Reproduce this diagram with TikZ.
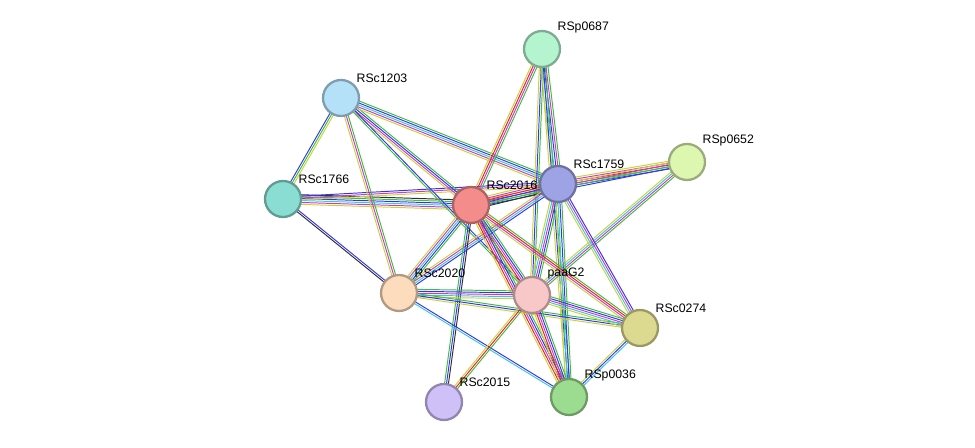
\documentclass[tikz,border=0pt]{standalone}
\usepackage{fontspec}
\setmainfont{Liberation Sans}
\usetikzlibrary{calc,backgrounds}
\definecolor{cNb}{HTML}{3DBE3D}
\definecolor{cCo}{HTML}{3535F0}
\definecolor{cEx}{HTML}{C83CC8}
\definecolor{cDb}{HTML}{3CC8D8}
\definecolor{cTm}{HTML}{C8D23C}
\definecolor{cFu}{HTML}{F01E1E}
\definecolor{cBk}{HTML}{303030}
\tikzset{
  prot/.style={circle, draw=#1!70!black, fill=#1, line width=1.3pt, minimum size=0.72cm, inner sep=0pt},
  lab/.style={font=\fontsize{7}{8}\selectfont, anchor=south west, inner sep=1pt},
}
\newcommand\bundle[4]{%
  \foreach \c [count=\i] in {#3}{%
    \pgfmathsetmacro\o{(\i-(#4+1)/2)*1.1}%
    \draw[\c, line width=0.55pt] ($(#1)!\o pt!90:(#2)$) -- ($(#2)!\o pt!-90:(#1)$);}}
\begin{document}
\begin{tikzpicture}[x=0.02cm, y=-0.02cm]
\useasboundingbox (0,0) rectangle (975,448);
\definecolor{fMint}{HTML}{B4F5CF}
\definecolor{fSky}{HTML}{B4E0F8}
\definecolor{fLime}{HTML}{DDF6B0}
\definecolor{fPur}{HTML}{9DA3E4}
\definecolor{fTeal}{HTML}{8ADDD3}
\definecolor{fRed}{HTML}{F58C8C}
\definecolor{fPeach}{HTML}{FCDCBC}
\definecolor{fPink}{HTML}{F8C8C8}
\definecolor{fKhaki}{HTML}{DCDA90}
\definecolor{fGreen}{HTML}{9CDC90}
\definecolor{fLav}{HTML}{D0C0F8}

\node[prot=fMint] (RSp0687) at (542,49) {};
\node[prot=fSky] (RSc1203) at (341,98) {};
\node[prot=fLime] (RSp0652) at (687,162) {};
\node[prot=fPur] (RSc1759) at (558,184) {};
\node[prot=fTeal] (RSc1766) at (283,199) {};
\node[prot=fRed] (RSc2016) at (471,205) {};
\node[prot=fPeach] (RSc2020) at (399,293) {};
\node[prot=fPink] (paaG2) at (532,295) {};
\node[prot=fKhaki] (RSc0274) at (640,328) {};
\node[prot=fGreen] (RSp0036) at (569,397) {};
\node[prot=fLav] (RSc2015) at (444,402) {};

\node[lab] at (RSp0687.north east) {RSp0687};
\node[lab] at (RSc1203.north east) {RSc1203};
\node[lab] at (RSp0652.north east) {RSp0652};
\node[lab] at (RSc1759.north east) {RSc1759};
\node[lab] at (RSc1766.north east) {RSc1766};
\node[lab] at (RSc2016.north east) {RSc2016};
\node[lab] at (RSc2020.north east) {RSc2020};
\node[lab] at (paaG2.north east) {paaG2};
\node[lab] at (RSc0274.north east) {RSc0274};
\node[lab] at (RSp0036.north east) {RSp0036};
\node[lab] at (RSc2015.north east) {RSc2015};

\begin{scope}[on background layer]
\bundle{RSc1766}{RSc1203}{cTm,cNb,cCo}{3}
\bundle{RSc1766}{RSc2016}{cTm,cEx,cDb,cCo,cNb,cBk}{6}
\bundle{RSc1766}{RSc1759}{cTm,cEx,cCo}{3}
\bundle{RSc1766}{RSc2020}{cBk,cCo}{2}
\bundle{RSc1203}{RSc2016}{cTm,cEx,cCo,cNb}{4}
\bundle{RSc1203}{RSc1759}{cTm,cEx,cDb,cCo,cNb}{5}
\bundle{RSc1203}{RSc2020}{cTm,cEx,cNb}{3}
\bundle{RSc1203}{paaG2}{cNb,cCo}{2}
\bundle{RSp0687}{RSc2016}{cTm,cFu,cEx,cNb}{4}
\bundle{RSp0687}{RSc1759}{cTm,cDb,cCo,cEx,cNb}{5}
\bundle{RSp0687}{paaG2}{cTm,cCo,cNb}{3}
\bundle{RSp0687}{RSp0036}{cTm,cCo,cNb}{3}
\bundle{RSp0652}{RSc1759}{cTm,cEx,cFu,cNb,cCo}{5}
\bundle{RSp0652}{RSc2016}{cTm,cEx,cNb,cCo}{4}
\bundle{RSp0652}{paaG2}{cTm,cDb,cEx,cNb}{4}
\bundle{RSc1759}{RSc2016}{cTm,cEx,cFu,cCo,cNb,cBk}{6}
\bundle{RSc1759}{RSc2020}{cTm,cEx,cDb,cCo}{4}
\bundle{RSc1759}{paaG2}{cTm,cDb,cEx,cCo,cNb}{5}
\bundle{RSc1759}{RSc0274}{cTm,cDb,cEx,cCo}{4}
\bundle{RSc1759}{RSp0036}{cTm,cDb,cCo,cNb}{4}
\bundle{RSc2016}{RSc2020}{cTm,cEx,cDb,cCo,cNb}{5}
\bundle{RSc2016}{paaG2}{cTm,cFu,cEx,cCo,cNb}{5}
\bundle{RSc2016}{RSc0274}{cTm,cEx,cFu,cNb}{4}
\bundle{RSc2016}{RSp0036}{cTm,cFu,cEx,cCo,cNb}{5}
\bundle{RSc2016}{RSc2015}{cNb,cCo,cBk}{3}
\bundle{RSc2020}{paaG2}{cTm,cDb,cEx,cCo,cNb}{5}
\bundle{RSc2020}{RSc0274}{cTm,cCo,cNb}{3}
\bundle{RSc2020}{RSp0036}{cDb,cCo}{2}
\bundle{paaG2}{RSc0274}{cTm,cDb,cEx,cCo,cNb}{5}
\bundle{paaG2}{RSp0036}{cTm,cFu,cEx,cCo,cNb}{5}
\bundle{paaG2}{RSc2015}{cTm,cFu,cNb}{3}
\bundle{RSc0274}{RSp0036}{cTm,cCo,cDb}{3}
\end{scope}
\end{tikzpicture}
\end{document}
